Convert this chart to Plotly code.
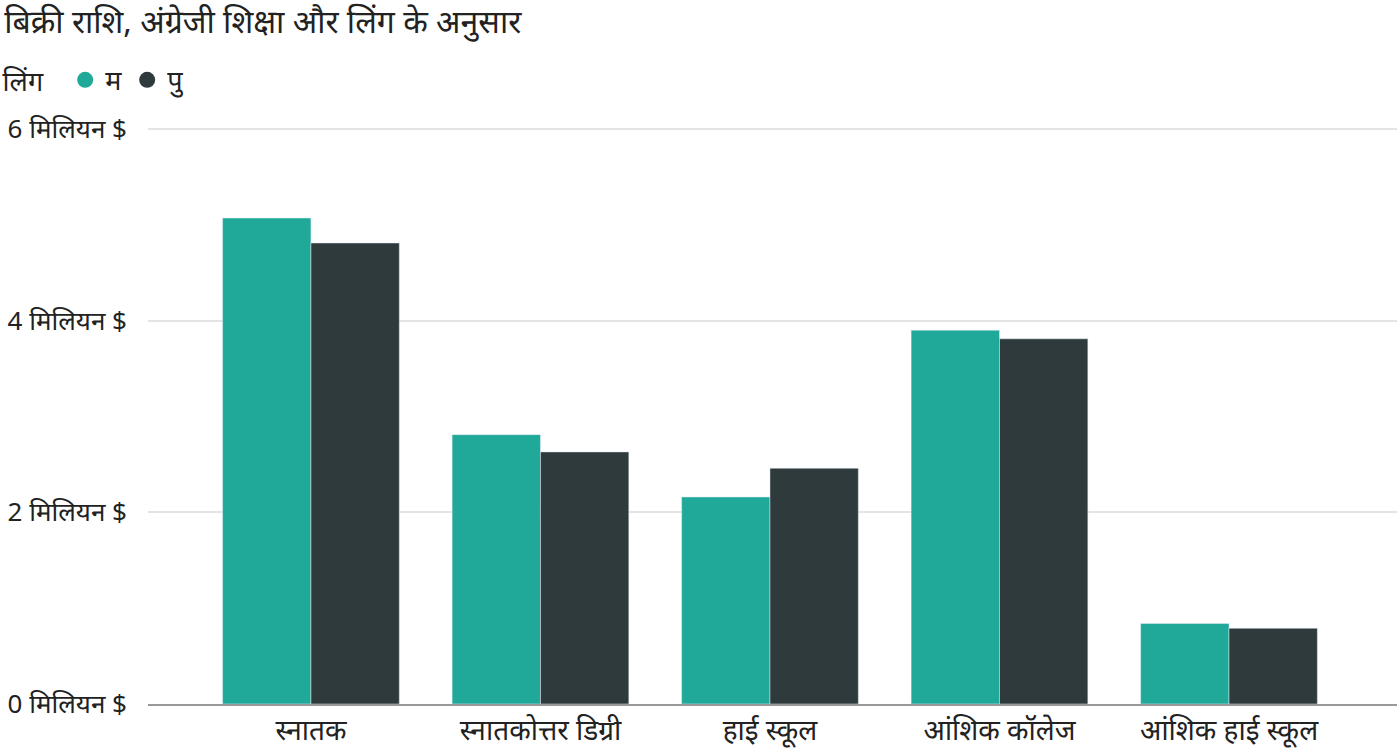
import plotly.graph_objects as go

# शिक्षा श्रेणियाँ और बिक्री (मिलियन $)
categories = ["स्नातक", "स्नातकोत्तर डिग्री", "हाई स्कूल", "आंशिक कॉलेज", "आंशिक हाई स्कूल"]
sales_m = [5.07, 2.81, 2.16, 3.90, 0.84]
sales_p = [4.81, 2.63, 2.46, 3.81, 0.79]
y_ticks = [0, 2, 4, 6]
y_tick_labels = ["0 मिलियन $", "2 मिलियन $", "4 मिलियन $", "6 मिलियन $"]

TEAL = "#20a898"
DARK = "#2f3a3c"
FONT = "Noto Sans, Noto Sans Devanagari, sans-serif"

fig = go.Figure()
fig.add_trace(go.Bar(x=categories, y=sales_m, name="म", marker_color=TEAL, showlegend=False))
fig.add_trace(go.Bar(x=categories, y=sales_p, name="पु", marker_color=DARK, showlegend=False))

# legend with round markers
fig.add_trace(go.Scatter(x=[None], y=[None], mode="markers", name="म",
                         marker=dict(color=TEAL, size=22, symbol="circle")))
fig.add_trace(go.Scatter(x=[None], y=[None], mode="markers", name="पु",
                         marker=dict(color=DARK, size=22, symbol="circle")))

fig.update_layout(
    width=1397, height=752,
    paper_bgcolor="white", plot_bgcolor="white",
    font=dict(family=FONT, size=26, color="#222222"),
    title=dict(text="बिक्री राशि, अंग्रेजी शिक्षा और लिंग के अनुसार",
               x=0.003, xanchor="left", y=0.971, yanchor="middle",
               font=dict(size=32, color="#222222")),
    margin=dict(l=148, r=0, t=127, b=48),
    barmode="group", bargap=0.23, bargroupgap=0,
    legend=dict(orientation="h", x=-0.118, xanchor="left", y=1.081, yanchor="middle",
                title=dict(text="लिंग  ", font=dict(size=27)),
                font=dict(size=27), itemwidth=30, tracegroupgap=0),
    xaxis=dict(range=[-0.71, 4.732], showgrid=False, showline=True,
               linecolor="#999999", linewidth=2, ticks="", tickfont=dict(size=28)),
    yaxis=dict(range=[0, 6.02], tickvals=y_ticks, ticktext=y_tick_labels,
               showgrid=True, gridcolor="#e4e4e4", gridwidth=1.5, zeroline=False,
               showline=False, ticklabelstandoff=20, tickfont=dict(size=26)),
)

fig.write_html("out.html", config={"displayModeBar": False},
               post_script="document.body.style.margin='0';")
